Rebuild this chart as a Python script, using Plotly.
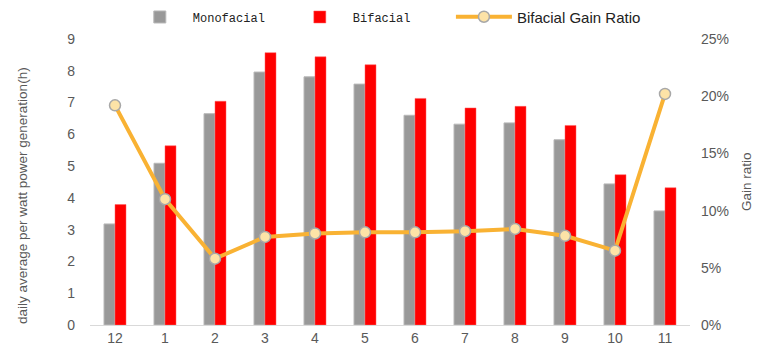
import plotly.graph_objects as go

months = ["12", "1", "2", "3", "4", "5", "6", "7", "8", "9", "10", "11"]
monofacial = [3.18, 5.09, 6.65, 7.96, 7.81, 7.58, 6.60, 6.32, 6.36, 5.83, 4.44, 3.59]
bifacial = [3.79, 5.64, 7.04, 8.57, 8.44, 8.19, 7.13, 6.83, 6.88, 6.28, 4.73, 4.32]
gain_ratio = [0.192, 0.110, 0.058, 0.077, 0.080, 0.081, 0.081, 0.082, 0.084, 0.078, 0.065, 0.202]

sans = "Liberation Sans, Arial, sans-serif"
mono = "Liberation Mono, DejaVu Sans Mono, monospace"
tick_font = dict(family=sans, size=14, color="#595959")

fig = go.Figure()
fig.add_trace(go.Bar(
    x=months, y=monofacial, name="Monofacial",
    marker=dict(color="#999999", line=dict(color="#b8b8b8", width=1)),
))
fig.add_trace(go.Bar(
    x=months, y=bifacial, name="Bifacial",
    marker=dict(color="#ff0000", line=dict(color="#ff6060", width=0.5)),
))
fig.add_trace(go.Scatter(
    x=months, y=gain_ratio, yaxis="y2", legend="legend2",
    name="Bifacial Gain Ratio",
    mode="lines+markers",
    line=dict(color="#f9b233", width=4),
    marker=dict(size=11, color="#fde3a7", line=dict(color="#a8a8a8", width=1.5)),
))

# page body has an 8px margin, so the figure is sized/offset to fit the 768x360 window
fig.update_layout(
    width=752, height=344,
    margin=dict(l=82, r=70, t=31, b=27, autoexpand=False),
    paper_bgcolor="white", plot_bgcolor="white",
    barmode="group", bargap=0.56, bargroupgap=0,
    showlegend=True,
    legend=dict(
        orientation="h", x=0.158, xanchor="left", xref="container",
        y=1.077, yanchor="middle", yref="paper",
        font=dict(family=mono, size=12, color="#222222"),
        entrywidth=89, itemwidth=56,
    ),
    legend2=dict(
        orientation="h", x=0.589, xanchor="left", xref="container",
        y=1.077, yanchor="middle", yref="paper",
        font=dict(family=sans, size=15, color="#222222"),
        itemwidth=56,
    ),
    xaxis=dict(
        range=[-0.5, 11.5],
        showline=True, linecolor="#d9d9d9", linewidth=1, automargin=False,
        showgrid=False, ticks="", tickfont=tick_font,
    ),
    yaxis=dict(
        range=[0, 9], dtick=1, showgrid=False, zeroline=False, showline=False,
        tickfont=tick_font, ticklabelstandoff=14, automargin=False,
    ),
    yaxis2=dict(
        range=[0, 0.25], dtick=0.05, tickformat=".0%", overlaying="y", side="right",
        showgrid=False, zeroline=False, showline=False, automargin=False,
        tickfont=tick_font, ticklabelstandoff=10,
    ),
    annotations=[
        dict(
            text="daily average per watt power generation(h)",
            xref="paper", yref="paper", x=0, y=0.451,
            xanchor="center", yanchor="middle", xshift=-68,
            textangle=-90, showarrow=False,
            font=dict(family=sans, size=13.5, color="#595959"),
        ),
        dict(
            text="Gain ratio",
            xref="paper", yref="paper", x=1, y=0.5,
            xanchor="center", yanchor="middle", xshift=56,
            textangle=-90, showarrow=False,
            font=dict(family=sans, size=13.5, color="#595959"),
        ),
    ],
)

fig.write_html("out.html")
